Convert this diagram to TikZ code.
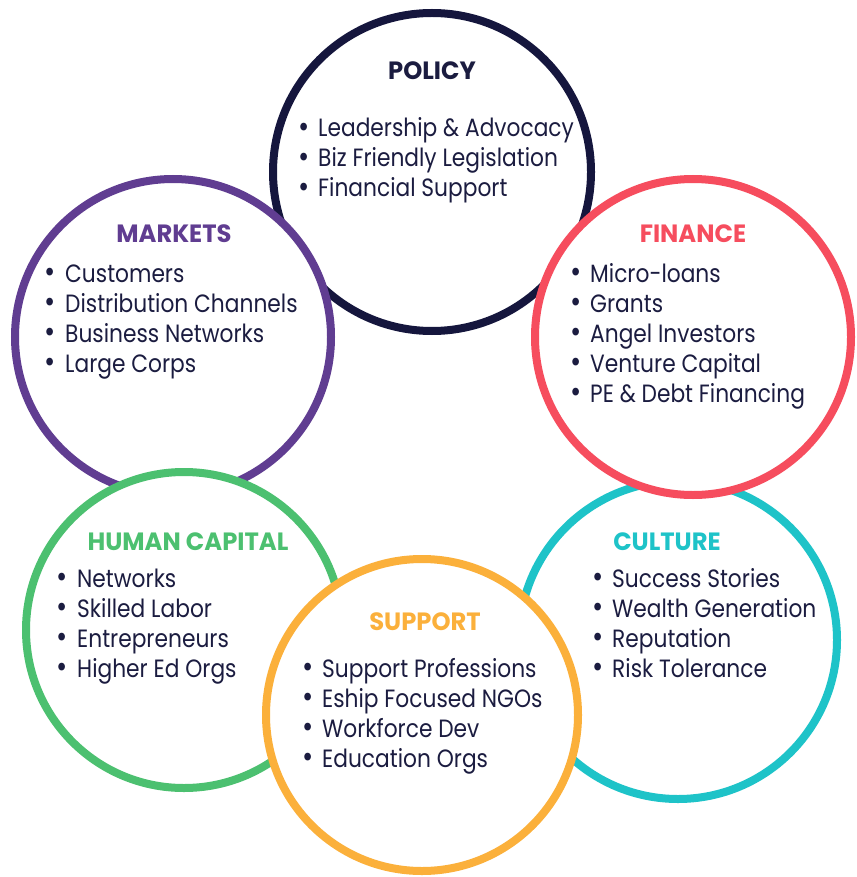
\documentclass[tikz,border=0pt]{standalone}
\usepackage{fontspec}
\setmainfont[FakeStretch=0.87]{Poppins}
\newfontfamily\titlefont[FakeStretch=0.97]{Poppins}
\definecolor{navy}{HTML}{1B1C40}
\definecolor{cpolicy}{HTML}{15163D}
\definecolor{cmarkets}{HTML}{603D91}
\definecolor{cfinance}{HTML}{F64D5E}
\definecolor{chuman}{HTML}{4CC070}
\definecolor{cculture}{HTML}{1EC3C8}
\definecolor{csupport}{HTML}{FBB03B}
\newcommand\bulletlist[4]{%
  \foreach \t [count=\i from 0] in {#4} {
    \node[itemtext] (#1\i) at (#2, #3+30*\i) {\llap{\raisebox{-0.6pt}{\scalebox{1.25}{\textbullet}}\hspace{9pt}}\t};
  }}
\begin{document}
\begin{tikzpicture}[x=1pt,y=-1pt,
  ring/.style={circle, draw=#1, line width=8pt, fill=white, inner sep=0pt, minimum size=318pt},
  title/.style={anchor=base, inner sep=0pt, font=\titlefont\fontsize{25}{30}\selectfont\bfseries, text=#1},
  itemtext/.style={anchor=base west, inner sep=0pt, font=\fontsize{25}{30}\selectfont, text=navy}]
\useasboundingbox (0,0) rectangle (856,877);
% circles (drawing order gives overlaps)
\node[ring=cpolicy] (policy) at (432,172) {};
\node[ring=cculture] (culture) at (678,640) {};
\node[ring=cmarkets, minimum size=316pt] (markets) at (173,337) {};
\node[ring=cfinance, minimum size=316pt] (finance) at (693,337) {};
\node[ring=chuman, minimum size=316pt] (human) at (184,630) {};
\node[ring=csupport, minimum size=312pt] (support) at (422,715) {};
% titles
\node[title=navy] (tpolicy) at (432,80) {POLICY};
\node[title=cmarkets] (tmarkets) at (174,243) {MARKETS};
\node[title=cfinance] (tfinance) at (693,243) {FINANCE};
\node[title=chuman] (thuman) at (188,550) {HUMAN CAPITAL};
\node[title=cculture] (tculture) at (667,550) {CULTURE};
\node[title=csupport] (tsupport) at (425,630) {SUPPORT};
% lists
\bulletlist{lp}{318}{137}{Leadership \& Advocacy, Biz Friendly Legislation, Financial Support}
\bulletlist{lm}{65}{282}{Customers, Distribution Channels, Business Networks, Large Corps}
\bulletlist{lf}{590}{282}{Micro-loans, Grants, Angel Investors, Venture Capital, PE \& Debt Financing}
\bulletlist{lh}{77}{587}{Networks, Skilled Labor, Entrepreneurs, Higher Ed Orgs}
\bulletlist{lc}{612}{587}{Success Stories, Wealth Generation, Reputation, Risk Tolerance}
\bulletlist{ls}{322}{677}{Support Professions, Eship Focused NGOs, Workforce Dev, Education Orgs}
\end{tikzpicture}
\end{document}
